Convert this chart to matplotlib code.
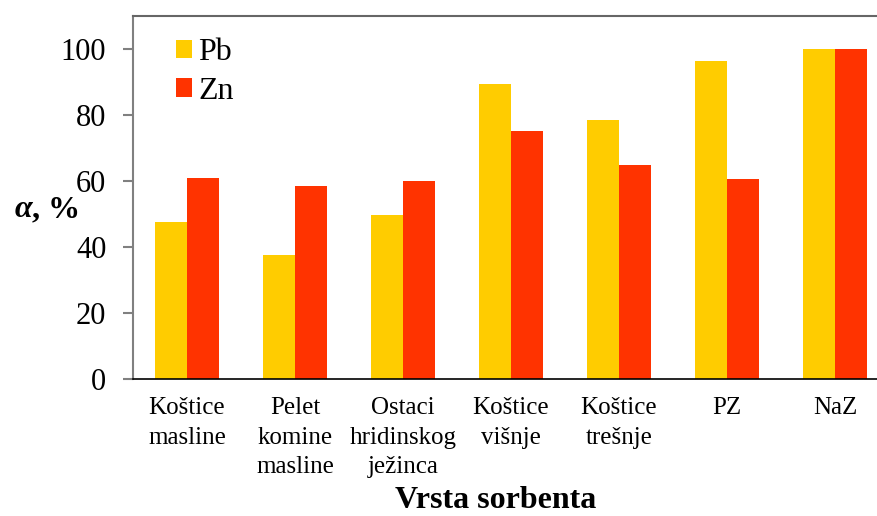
import matplotlib.pyplot as plt
import numpy as np

categories = ['Koštice\nmasline', 'Pelet\nkomine\nmasline', 'Ostaci\nhridinskog\nježinca',
              'Koštice\nvišnje', 'Koštice\ntrešnje', 'PZ', 'NaZ']
pb = [47.7, 37.6, 49.7, 89.3, 78.5, 96.3, 100]
zn = [60.8, 58.6, 60.0, 75.0, 64.8, 60.6, 100]

plt.rcParams['font.family'] = ['Liberation Serif', 'DejaVu Serif']

fig = plt.figure(figsize=(8.77, 5.16), dpi=100)
ax = fig.add_axes([133 / 877, 137 / 516, 756 / 877, 363 / 516])

x = np.arange(len(categories))
w = 0.292
ax.bar(x - w / 2, pb, w, color='#FFCC00', label='Pb')
ax.bar(x + w / 2, zn, w, color='#FF3300', label='Zn')

ax.set_xlim(-0.5, 6.5)
ax.set_ylim(0, 110)
ax.set_yticks([0, 20, 40, 60, 80, 100])
ax.set_xticks(x)
ax.set_xticklabels(categories, fontsize=18, linespacing=1.45, va='top')
ax.tick_params(axis='x', length=0, pad=13)
ax.tick_params(axis='y', length=7.2, width=1.5, color='#808080', pad=12, labelsize=22)

ax.spines['right'].set_visible(False)
ax.spines['left'].set_color('#808080')
ax.spines['left'].set_linewidth(1.5)
ax.spines['top'].set_color('#666666')
ax.spines['top'].set_linewidth(1.5)
ax.spines['bottom'].set_color('black')
ax.spines['bottom'].set_linewidth(1.2)

ax.legend(loc='upper left', bbox_to_anchor=(0.027, 1.0), frameon=False, fontsize=23,
          handlelength=0.5, handleheight=0.5, handletextpad=0.2, labelspacing=0.3,
          borderaxespad=0.3)

fig.text(496 / 877, 1 - 508 / 516, 'Vrsta sorbenta', ha='center', va='baseline',
         fontsize=23, fontweight='bold')
fig.text(32 / 877, 1 - 217 / 516, 'α', ha='right', va='baseline', fontsize=23,
         fontweight='bold', style='italic')
fig.text(32 / 877, 1 - 217 / 516, ', %', ha='left', va='baseline', fontsize=23,
         fontweight='bold')

fig.savefig('out.png', dpi=100)
